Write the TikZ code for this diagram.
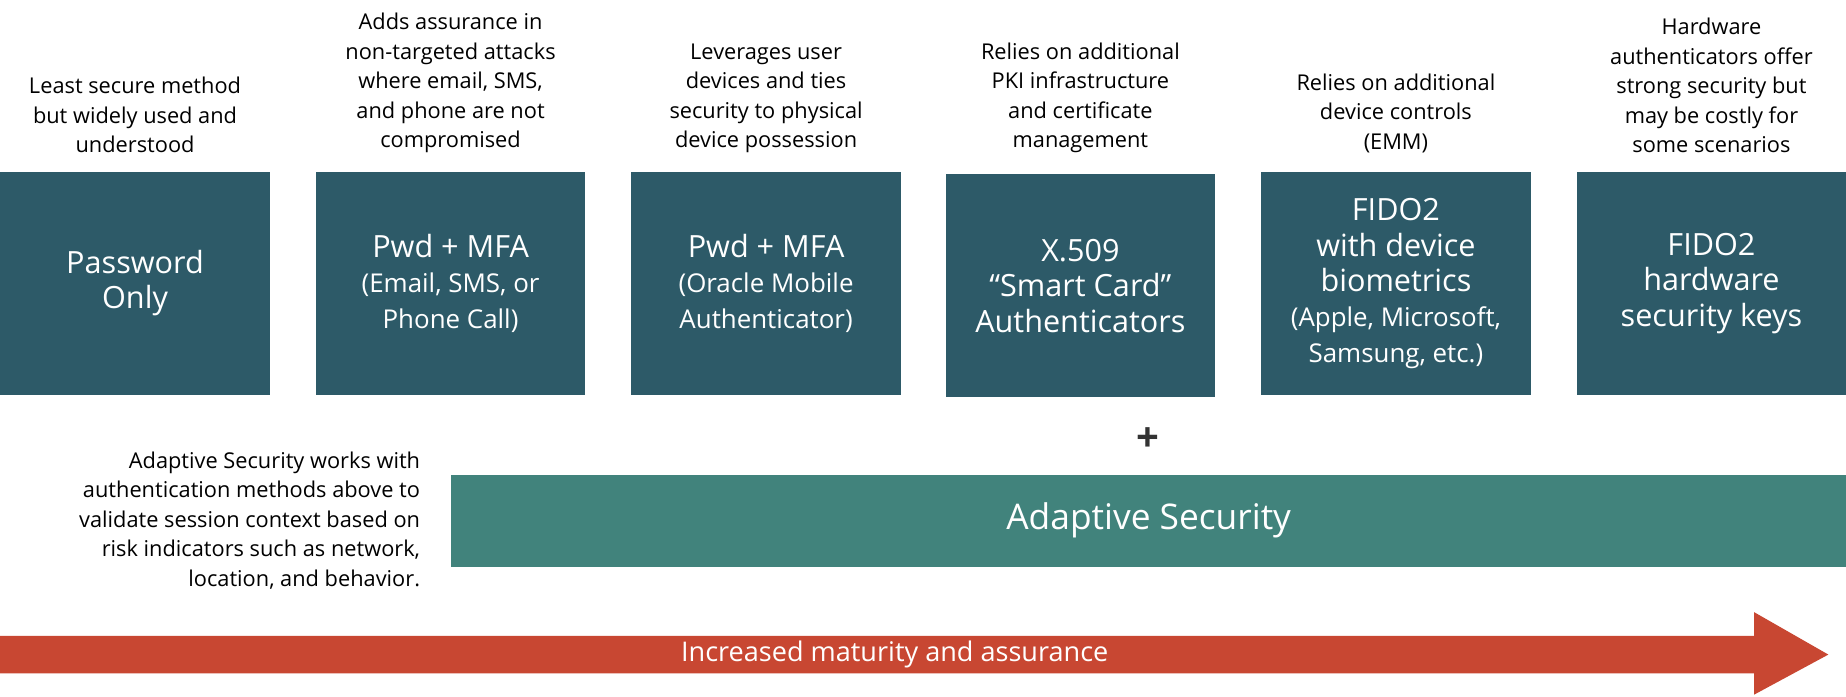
\documentclass[tikz,border=0pt]{standalone}
\usepackage{fontspec}
\setmainfont{Open Sans}
\usetikzlibrary{positioning}
\definecolor{boxteal}{HTML}{2D5A68}
\definecolor{adaptgreen}{HTML}{41837C}
\definecolor{arrowred}{HTML}{C84732}
\newcommand{\subtxt}[1]{{\fontsize{22}{27}\selectfont #1}}
\begin{document}
\begin{tikzpicture}[x=1pt,y=-1pt,
  method node/.style={rectangle,fill=boxteal,text=white,minimum width=229pt,minimum height=189pt,
    align=center,inner sep=0pt,font=\fontsize{26}{30}\selectfont,anchor=north west},
  note node/.style={align=center,font=\fontsize{18.5}{25}\selectfont,anchor=south,inner sep=0pt}]

  \useasboundingbox (0,0) rectangle (1568,592);

  \node[method node] (pwd) at (0,146) {Password\\Only};
  \node[method node] (mfa) at (268,146) {Pwd + MFA\\\subtxt{(Email, SMS, or}\\\subtxt{Phone Call)}};
  \node[method node] (oma) at (536,146) {Pwd + MFA\\\subtxt{(Oracle Mobile}\\\subtxt{Authenticator)}};
  \node[method node] (x509) at (803,148) {X.509\\“Smart Card”\\Authenticators};
  \node[method node] (bio) at (1071,146) {FIDO2\\with device\\biometrics\\\subtxt{(Apple, Microsoft,}\\\subtxt{Samsung, etc.)}};
  \node[method node] (key) at (1339,146) {FIDO2\\hardware\\security keys};

  \node[note node] at ([yshift=16pt]pwd.north) {Least secure method\\but widely used and\\understood};
  \node[note node] at ([yshift=16pt]mfa.north) {Adds assurance in\\non-targeted attacks\\where email, SMS,\\and phone are not\\compromised};
  \node[note node] at ([yshift=16pt]oma.north) {Leverages user\\devices and ties\\security to physical\\device possession};
  \node[note node] at ([yshift=18pt]x509.north) {Relies on additional\\PKI infrastructure\\and certificate\\management};
  \node[note node] at ([yshift=16pt]bio.north) {Relies on additional\\device controls\\(EMM)};
  \node[note node] at ([yshift=16pt]key.north) {Hardware\\authenticators offer\\strong security but\\may be costly for\\some scenarios};

  \node[font=\fontsize{34}{34}\selectfont\bfseries,text=black!80] (plus) at (975,373) {+};
  \node[rectangle,fill=adaptgreen,text=white,minimum width=1185pt,minimum height=78pt,anchor=north west,
    inner sep=0pt,font=\fontsize{30}{34}\selectfont] (adapt) at (383,403) {Adaptive Security};
  \node[align=right,anchor=east,inner sep=0pt,font=\fontsize{18.5}{25}\selectfont] (adnote) at (357,442)
    {Adaptive Security works with\\authentication methods above to\\validate session context based on\\risk indicators such as network,\\location, and behavior.};

  % maturity arrow
  \fill[arrowred] (0,540) -- (1490,540) -- (1490,520) -- (1553,556) -- (1490,590) -- (1490,572) -- (0,572) -- cycle;
  \node[text=white,font=\fontsize{23}{27}\selectfont] (mature) at (760,556) {Increased maturity and assurance};
\end{tikzpicture}
\end{document}
